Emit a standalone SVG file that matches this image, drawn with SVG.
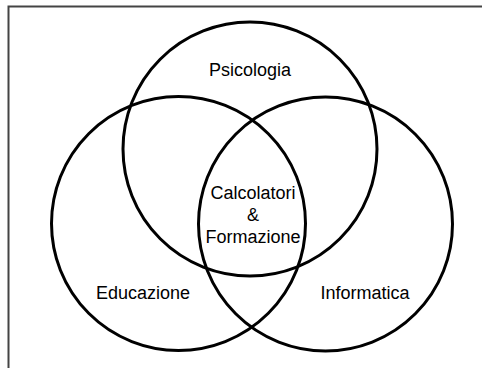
<svg xmlns="http://www.w3.org/2000/svg" width="482" height="368" viewBox="0 0 482 368">
<style>
.c{fill:none;stroke:#000;stroke-width:3}
.t{font-family:"Liberation Sans",Arial,sans-serif;font-size:18px;fill:#000;text-anchor:middle}
.b{stroke:#444;stroke-width:2;fill:none}
</style>
<rect width="482" height="368" fill="#fff"/>
<g id="frame">
<path class="b" d="M8.5 368V6.5H482"/>
</g>
<g id="psicologia">
<circle class="c" cx="250" cy="149" r="127"/>
<text class="t" x="250" y="76">Psicologia</text>
</g>
<g id="educazione">
<circle class="c" cx="178.5" cy="223.5" r="127"/>
<text class="t" x="143" y="299">Educazione</text>
</g>
<g id="informatica">
<circle class="c" cx="325.5" cy="224" r="127"/>
<text class="t" x="365" y="299">Informatica</text>
</g>
<g id="centro">
<text class="t" x="253" y="199">Calcolatori</text>
<text class="t" x="253" y="221">&amp;</text>
<text class="t" x="253" y="243">Formazione</text>
</g>
<g id="connectors"/>
</svg>
